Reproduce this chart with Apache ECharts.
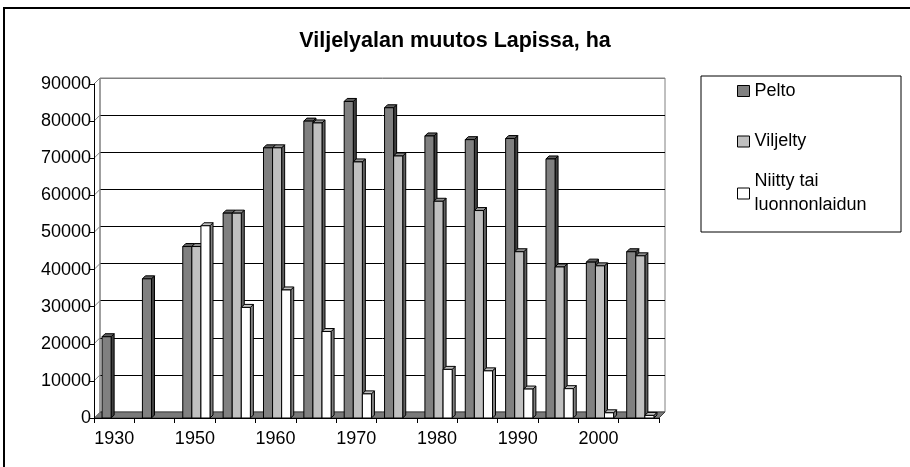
<!DOCTYPE html>
<html>
<head>
<meta charset="utf-8">
<script src="https://cdn.jsdelivr.net/npm/echarts@6/dist/echarts.min.js"></script>
<style>html,body{margin:0;padding:0;background:#fff;}#c{width:910px;height:467px;}</style>
</head>
<body>
<div id="c"></div>
<script>
var categories = ['1930','1940','1950','1955','1960','1965','1970','1975','1980','1985','1990','1995','2000','2005'];
var pelto    = [21900, 37500, 46200, 55200, 72800, 80000, 85300, 83600, 76000, 75000, 75300, 69800, 42000, 44800];
var viljelty = [null, null, 46200, 55200, 72800, 79500, 69000, 70600, 58400, 55900, 44800, 40700, 41000, 43700];
var niitty   = [null, null, 51800, 29800, 34500, 23300, 6500, null, 13100, 12700, 7800, 7900, 1400, 700];
var yTicks = [0, 10000, 20000, 30000, 40000, 50000, 60000, 70000, 80000, 90000];
var seriesNames = ['Pelto', 'Viljelty', 'Niitty tai luonnonlaidun'];

var FONT = '"Liberation Sans", Arial, sans-serif';
var L = 94, T = 84, R = 659, B = 418, D = 6, W = 910, H = 467;
var faces = [
  {front: '#808080', side: '#404040', top: '#606060'},
  {front: '#c0c0c0', side: '#606060', top: '#909090'},
  {front: '#ffffff', side: '#808080', top: '#c0c0c0'}
];

function makeRender(si) {
  return function (params, api) {
    var v = api.value(1);
    if (v == null || isNaN(v)) return null;
    var idx = api.value(0);
    var p = api.coord([idx, v]);
    var base = api.coord([idx, 0]);
    var cw = api.size([1, 0])[0];
    var bw = cw * 0.225;
    var d = 3;
    var x0 = p[0] - 1.5 * bw + si * bw + 1.5;
    var y0 = p[1], y1 = base[1];
    var f = faces[si];
    var st = {stroke: '#000', lineWidth: 1};
    return {
      type: 'group',
      children: [
        {type: 'polygon', shape: {points: [[x0 + bw, y0], [x0 + bw + d, y0 - d], [x0 + bw + d, y1 - d], [x0 + bw, y1]]},
          style: Object.assign({fill: f.side}, st)},
        {type: 'polygon', shape: {points: [[x0, y0], [x0 + d, y0 - d], [x0 + bw + d, y0 - d], [x0 + bw, y0]]},
          style: Object.assign({fill: f.top}, st)},
        {type: 'rect', shape: {x: x0, y: y0, width: bw, height: y1 - y0},
          style: Object.assign({fill: f.front}, st)}
      ]
    };
  };
}

var dataSets = [pelto, viljelty, niitty];
var series = dataSets.map(function (arr, si) {
  return {
    type: 'custom',
    name: seriesNames[si],
    xAxisIndex: 0, yAxisIndex: 0,
    renderItem: makeRender(si),
    itemStyle: {color: faces[si].front, borderColor: '#000', borderWidth: 1},
    encode: {x: 0, y: 1},
    data: arr.map(function (v, i) { return [i, v]; }),
    z: 5
  };
});

// decorations
var graphics = [];
graphics.push({type: 'rect', shape: {x: 4, y: 8, width: 1000, height: 1000}, style: {fill: 'none', stroke: '#000', lineWidth: 2}, z: 0, silent: true});
graphics.push({type: 'rect', shape: {x: 701, y: 76, width: 200, height: 156}, style: {fill: 'none', stroke: '#000', lineWidth: 1}, z: 0, silent: true});
graphics.push({type: 'polygon', shape: {points: [[L, B], [R, B], [R + D, B - D], [L + D, B - D]]}, style: {fill: '#7a7a7a', stroke: '#404040', lineWidth: 1}, z: 1, silent: true});
yTicks.forEach(function (v) {
  var y = B - v / 90000 * (B - T);
  graphics.push({type: 'line', shape: {x1: L, y1: y, x2: L + D, y2: y - D}, style: {stroke: '#808080', lineWidth: 1}, z: 1, silent: true});
});
graphics.push({type: 'line', shape: {x1: L + D, y1: T - D, x2: L + D, y2: B - D}, style: {stroke: '#808080', lineWidth: 1}, z: 1, silent: true});

var lgText = {fontFamily: FONT, fontSize: 18, color: '#000'};
var option = {
  backgroundColor: '#fff',
  animation: false,
  title: {
    text: 'Viljelyalan muutos Lapissa, ha',
    left: 'center', top: 25, padding: [5, 5, 5, 29],
    textStyle: {fontFamily: FONT, fontSize: 21.5, fontWeight: 'bold', color: '#000'}
  },
  legend: [
    {data: [seriesNames[0]], orient: 'vertical', left: 737, top: 82, padding: 0, icon: 'rect', itemWidth: 12, itemHeight: 11,
      itemStyle: {borderColor: '#000', borderWidth: 1}, textStyle: lgText, selectedMode: false},
    {data: [seriesNames[1]], orient: 'vertical', left: 737, top: 132.5, padding: 0, icon: 'rect', itemWidth: 12, itemHeight: 11,
      itemStyle: {borderColor: '#000', borderWidth: 1}, textStyle: lgText, selectedMode: false},
    {data: [seriesNames[2]], orient: 'vertical', left: 737, top: 157.5, padding: 0, icon: 'rect', itemWidth: 12, itemHeight: 11,
      itemStyle: {borderColor: '#000', borderWidth: 1},
      formatter: function (n) { return n.replace(' luonnon', '\nluonnon'); },
      textStyle: Object.assign({lineHeight: 24, padding: [24, 0, 0, 0]}, lgText), selectedMode: false}
  ],
  grid: [
    {left: L, top: T, width: R - L, height: B - T, containLabel: false},
    {left: L + D, top: T - D, width: R - L, height: B - T, show: true, borderColor: '#808080', borderWidth: 1, backgroundColor: 'transparent', containLabel: false}
  ],
  xAxis: [
    {type: 'category', gridIndex: 0, data: categories, boundaryGap: true,
      axisLine: {show: true, lineStyle: {color: '#000', width: 1}},
      axisTick: {show: true, interval: 0, length: 5, lineStyle: {color: '#000'}},
      axisLabel: {interval: 1, margin: 12, fontFamily: FONT, fontSize: 18, color: '#000'},
      splitLine: {show: false}, z: 6},
    {type: 'category', gridIndex: 1, data: categories, show: false}
  ],
  yAxis: [
    {type: 'value', gridIndex: 0, min: 0, max: 90000, interval: 10000,
      axisLine: {show: true, lineStyle: {color: '#000', width: 1}},
      axisTick: {show: true, length: 5, lineStyle: {color: '#000'}},
      axisLabel: {margin: 3, fontFamily: FONT, fontSize: 18, color: '#000', formatter: function (v) { return String(v); }},
      splitLine: {show: false}, z: 6},
    {type: 'value', gridIndex: 1, min: 0, max: 90000, interval: 10000,
      axisLine: {show: false}, axisTick: {show: false}, axisLabel: {show: false},
      splitLine: {show: true, lineStyle: {color: ['#808080', '#000', '#000', '#000', '#000', '#000', '#000', '#000', '#000', '#808080'], width: 1}}}
  ],
  graphic: graphics,
  series: series
};

var chart = echarts.init(document.getElementById('c'), null, {renderer: 'canvas'});
chart.setOption(option);
</script>
</body>
</html>
